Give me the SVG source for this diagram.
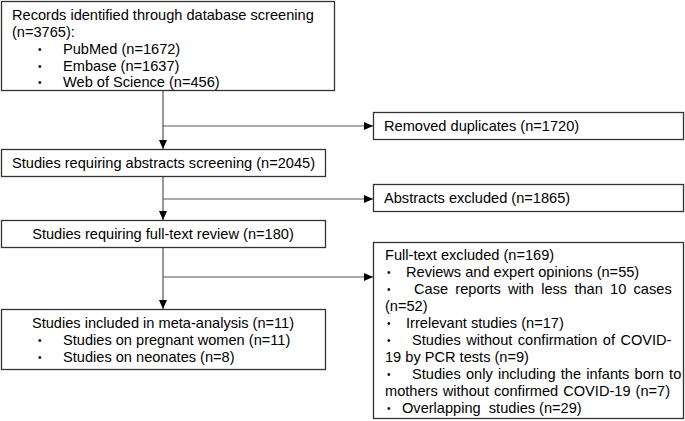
<svg xmlns="http://www.w3.org/2000/svg" width="685" height="421" viewBox="0 0 685 421">
<style>
.box{fill:#fff;stroke:#333;stroke-width:1.3}
.t{font-family:"Liberation Sans",Arial,sans-serif;font-size:14.6px;fill:#000}
.b{font-family:"Liberation Sans",Arial,sans-serif;font-size:10px;fill:#000}
.c{fill:none;stroke:#555;stroke-width:1.2}
</style>
<defs>
<marker id="ah" markerWidth="9" markerHeight="8" refX="9" refY="4" orient="auto" markerUnits="userSpaceOnUse">
<path d="M0,0 L9,4 L0,8 Z" fill="#000"/>
</marker>
</defs>
<rect width="685" height="421" fill="#fff"/>
<g id="connectors">
<path class="c" d="M163,91 V149" marker-end="url(#ah)"/>
<path class="c" d="M163,126 H373" marker-end="url(#ah)"/>
<path class="c" d="M163,177 V220" marker-end="url(#ah)"/>
<path class="c" d="M163,199 H373" marker-end="url(#ah)"/>
<path class="c" d="M163,248 V309" marker-end="url(#ah)"/>
<path class="c" d="M163,277 H373" marker-end="url(#ah)"/>
</g>
<g id="records">
<rect class="box" x="1.5" y="1.5" width="333" height="89"/>
<text class="t" x="12" y="20">Records identified through database screening</text>
<text class="t" x="12" y="37">(n=3765):</text>
<text class="b" x="38" y="53">•</text><text class="t" x="63" y="54">PubMed (n=1672)</text>
<text class="b" x="38" y="70">•</text><text class="t" x="63" y="71">Embase (n=1637)</text>
<text class="b" x="38" y="86">•</text><text class="t" x="63" y="87">Web of Science (n=456)</text>
</g>
<g id="removed">
<rect class="box" x="373.5" y="112.5" width="310" height="27"/>
<text class="t" x="384" y="131">Removed duplicates (n=1720)</text>
</g>
<g id="abstracts">
<rect class="box" x="1.5" y="149.5" width="324" height="27"/>
<text class="t" x="12" y="168">Studies requiring abstracts screening (n=2045)</text>
</g>
<g id="abstracts-excluded">
<rect class="box" x="373.5" y="184.5" width="310" height="27"/>
<text class="t" x="384" y="203">Abstracts excluded (n=1865)</text>
</g>
<g id="fulltext">
<rect class="box" x="1.5" y="220.5" width="324" height="27"/>
<text class="t" x="163" y="239" text-anchor="middle">Studies requiring full-text review (n=180)</text>
</g>
<g id="included">
<rect class="box" x="1.5" y="309.5" width="324" height="60"/>
<text class="t" x="163" y="328" text-anchor="middle">Studies included in meta-analysis (n=11)</text>
<text class="b" x="38" y="344">•</text><text class="t" x="63" y="345">Studies on pregnant women (n=11)</text>
<text class="b" x="38" y="361">•</text><text class="t" x="63" y="362">Studies on neonates (n=8)</text>
</g>
<g id="fulltext-excluded">
<rect class="box" x="373.5" y="242.5" width="310" height="176"/>
<text class="t" x="385" y="260">Full-text excluded (n=169)</text>
<text class="b" x="387" y="276">•</text><text class="t" x="406" y="277">Reviews and expert opinions (n=55)</text>
<text class="b" x="387" y="293">•</text><text class="t" x="414" y="294" word-spacing="3.2">Case reports with less than 10 cases</text>
<text class="t" x="385" y="311">(n=52)</text>
<text class="b" x="387" y="327">•</text><text class="t" x="406" y="328">Irrelevant studies (n=17)</text>
<text class="b" x="387" y="344">•</text><text class="t" x="412" y="345" word-spacing="1.4">Studies without confirmation of COVID-</text>
<text class="t" x="385" y="362">19 by PCR tests (n=9)</text>
<text class="b" x="387" y="378">•</text><text class="t" x="412" y="379" word-spacing="1.2">Studies only including the infants born to</text>
<text class="t" x="385" y="396" word-spacing="1">mothers without confirmed COVID-19 (n=7)</text>
<text class="b" x="387" y="412">•</text><text class="t" x="402" y="413" xml:space="preserve">Overlapping  studies (n=29)</text>
</g>
</svg>
